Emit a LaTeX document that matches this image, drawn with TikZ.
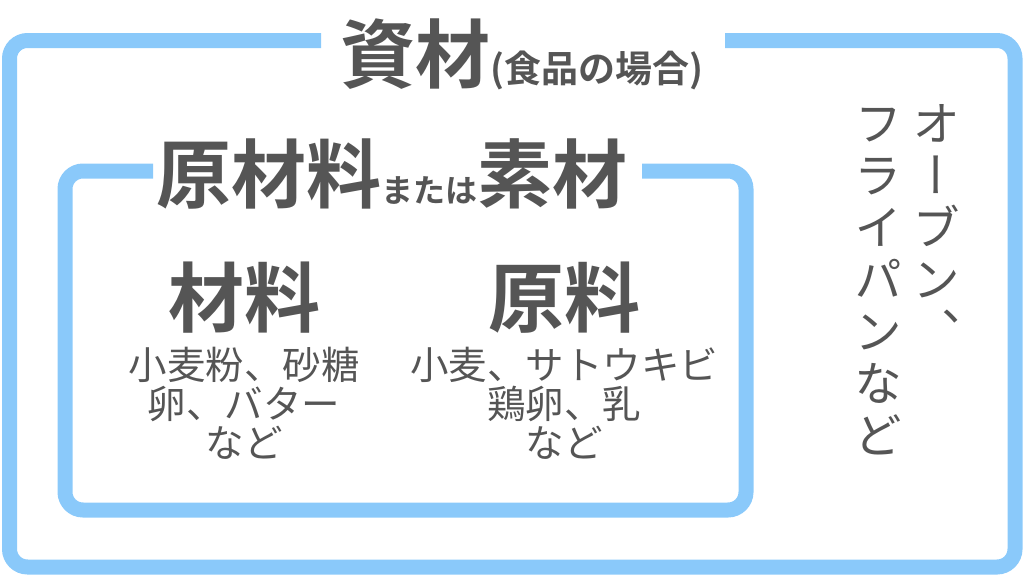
\documentclass[tikz,border=0pt]{standalone}
\usepackage{fontspec}
\setmainfont{Noto Sans CJK JP}[BoldFont={Noto Sans CJK JP Bold}]
\newfontfamily\vertfont{Noto Sans CJK JP}[RawFeature=+vert]
\definecolor{frameblue}{HTML}{8AC9FA}
\definecolor{textgray}{HTML}{555555}
\tikzset{
  frameline/.style={line width=15pt, draw=frameblue, rounded corners=18pt},
  headtext/.style={font=\fontsize{75}{78}\selectfont\bfseries, text=textgray, inner sep=0pt, anchor=base},
  subhead/.style={font=\fontsize{76}{78}\selectfont\bfseries, text=textgray, inner sep=0pt, anchor=base},
  itemtext/.style={font=\fontsize{38.5}{39}\selectfont, text=textgray, inner sep=0pt, align=center},
  verttext/.style={font=\vertfont\fontsize{48}{52}\selectfont, text=textgray, inner sep=0pt, align=center, anchor=north}
}

\begin{document}
\begin{tikzpicture}[x=1pt,y=-1pt]
\useasboundingbox (0,0) rectangle (1024,576);

% outer frame
\draw[frameline] (725,40.5) -- (1015,40.5) -- (1015,567) -- (9.5,567) -- (9.5,40.5) -- (321,40.5);
% inner frame
\draw[frameline] (642,171) -- (746,171) -- (746,510) -- (65,510) -- (65,171) -- (153,171);

\node[headtext] (shizai) at (522,82) {資材{\fontsize{37}{39}\selectfont (食品の場合)}};
\node[headtext] (genzairyo) at (392,202) {原材料{\fontsize{32}{34}\selectfont または}素材};

\node[subhead] (zairyo) at (244,326) {材料};
\node[subhead] (genryo) at (564,326) {原料};

\node[itemtext] (zairyoitems) at (244,403.5) {小麦粉、砂糖\\卵、バター\\など};
\node[itemtext] (genryoitems) at (564,403.5) {小麦、サトウキビ\\鶏卵、乳\\など};

\node[verttext] (ovencol) at (936,104) {オ\\ー\\ブ\\ン\\、};
\node[verttext] (pancol) at (878,108) {フ\\ラ\\イ\\パ\\ン\\な\\ど};

\end{tikzpicture}
\end{document}
